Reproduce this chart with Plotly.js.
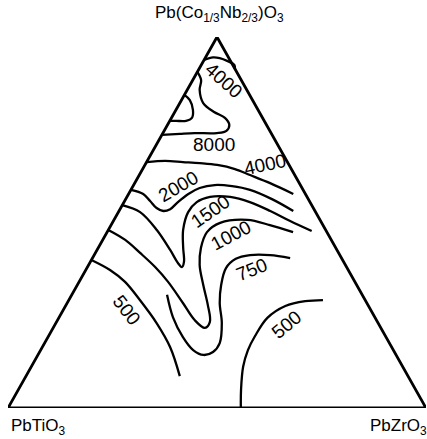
<!DOCTYPE html>
<html>
<head>
<meta charset="utf-8">
<script src="https://cdn.plot.ly/plotly-3.0.1.min.js"></script>
<style>
  html, body { margin: 0; padding: 0; background: #ffffff; }
  #chart { width: 427px; height: 439px; }
</style>
</head>
<body>
<div id="chart"></div>
<script>
// Ternary system: top, left and right corner compounds
const components = [
  'Pb(Co<sub>1/3</sub>Nb<sub>2/3</sub>)O<sub>3</sub>',
  'PbTiO<sub>3</sub>',
  'PbZrO<sub>3</sub>'
];

// Iso-permittivity lines, compositions in mol% Pb(Co1/3Nb2/3)O3 (pcn) and PbZrO3 (pz);
// PbTiO3 is the balance.
const pcn_4000a = [93.8, 94.5, 94.3, 93.5, 92.5, 91.4];
const pz_4000a  = [0.0, 1.8, 3.5, 5.8, 7.9, 8.6];

const pcn_8000 = [90.6, 88.4, 85.7, 82.2, 79.8, 78.2, 76.3, 74.7, 74.1, 74.1, 73.9, 73.6];
const pz_8000  = [0.0, 2.0, 3.0, 5.6, 9.4, 12.8, 14.8, 14.9, 12.9, 7.6, 4.2, 0.0];

const pcn_peak = [84.4, 83.0, 80.3, 78.2, 77.4, 77.4, 77.4];
const pz_peak  = [0.0, 2.0, 4.1, 4.9, 3.9, 1.5, 0.0];

const pcn_4000b = [66.3, 66.6, 66.3, 66.0, 65.5, 64.4, 62.8, 60.6, 57.7];
const pz_4000b  = [0.0, 4.3, 8.7, 12.9, 17.3, 22.1, 26.5, 32.4, 39.4];

const pcn_2000 = [58.8, 57.7, 55.8, 53.9, 53.1, 53.6, 55.5, 57.7, 59.3, 60.1, 59.8, 58.8, 56.3, 53.1];
const pz_2000  = [0.0, 3.5, 6.1, 8.6, 10.6, 12.0, 12.9, 14.3, 16.2, 19.4, 23.7, 28.5, 35.0, 41.7];

const pcn_1500 = [54.7, 52.8, 48.0, 42.6, 39.1, 38.0, 39.4, 43.4, 48.0, 52.8, 55.5, 56.9, 56.9, 55.5, 53.1, 50.4, 47.7];
const pz_1500  = [0.0, 5.2, 11.6, 17.5, 21.1, 22.6, 22.4, 20.2, 17.9, 16.7, 17.4, 19.9, 24.7, 30.1, 36.2, 42.3, 48.8];

const pcn_1000 = [48.0, 45.3, 41.8, 38.0, 34.0, 28.3, 23.7, 21.6, 23.2, 27.8, 33.2, 38.5, 43.1, 47.4, 49.9, 50.7, 49.3, 47.4];
const pz_1000  = [0.0, 5.4, 10.7, 16.2, 21.3, 27.7, 32.8, 36.3, 36.7, 33.9, 30.1, 26.6, 24.6, 23.9, 25.8, 31.9, 38.0, 44.5];

const pcn_750 = [30.5, 24.5, 19.1, 15.6, 14.3, 15.1, 17.5, 22.9, 28.3, 33.2, 37.7, 40.2, 41.2, 41.2, 40.4];
const pz_750  = [22.8, 27.2, 32.3, 36.5, 39.6, 41.5, 41.9, 39.7, 36.5, 34.4, 33.3, 34.4, 37.3, 42.1, 47.3];

const pcn_500a = [39.9, 37.2, 34.0, 29.1, 22.9, 16.4, 8.6];
const pz_500a  = [0.0, 5.8, 11.0, 17.0, 24.1, 30.6, 36.8];

const pcn_500b = [0.0, 4.9, 11.1, 15.6, 19.4, 24.3, 27.5, 28.8, 29.1];
const pz_500b  = [55.7, 53.3, 50.7, 49.6, 49.4, 49.9, 52.6, 56.7, 60.8];

// Contour lines and their permittivity levels (null: unlabelled maximum)
const contours = [
  { level: 4000, pcn: pcn_4000a, pz: pz_4000a },
  { level: 8000, pcn: pcn_8000,  pz: pz_8000 },
  { level: null, pcn: pcn_peak,  pz: pz_peak },
  { level: 4000, pcn: pcn_4000b, pz: pz_4000b },
  { level: 2000, pcn: pcn_2000,  pz: pz_2000 },
  { level: 1500, pcn: pcn_1500,  pz: pz_1500 },
  { level: 1000, pcn: pcn_1000,  pz: pz_1000 },
  { level: 750,  pcn: pcn_750,   pz: pz_750 },
  { level: 500,  pcn: pcn_500a,  pz: pz_500a },
  { level: 500,  pcn: pcn_500b,  pz: pz_500b }
];

// Ternary composition -> cartesian position inside the unit triangle
function toX(pcn, pz) { return (pz + pcn / 2) / 100; }
function toY(pcn) { return pcn / 100; }

const traces = [];

// Triangle outline through the three pure compounds
const cornerPcn = [100, 0, 0, 100];
const cornerPz  = [0, 0, 100, 0];
traces.push({
  type: 'scatter', mode: 'lines',
  x: cornerPcn.map((a, i) => toX(a, cornerPz[i])),
  y: cornerPcn.map(a => toY(a)),
  line: { color: '#000', width: 2.8 },
  cliponaxis: false, hoverinfo: 'skip', showlegend: false
});

contours.forEach(c => {
  traces.push({
    type: 'scatter', mode: 'lines',
    x: c.pcn.map((a, i) => toX(a, c.pz[i])),
    y: c.pcn.map(a => toY(a)),
    line: { color: '#000', width: 2.3, shape: 'spline', smoothing: 1 },
    cliponaxis: false, hoverinfo: 'skip', showlegend: false
  });
});

// Where each contour's value is written (contour index, composition, text angle)
const labelSpots = [
  { k: 0, pcn: 88.4, pz: 7.5,  angle: 42 },
  { k: 1, pcn: 70.9, pz: 13.9, angle: 0 },
  { k: 3, pcn: 65.5, pz: 28.8, angle: -12 },
  { k: 4, pcn: 59.8, pz: 10.8, angle: -30 },
  { k: 5, pcn: 53.1, pz: 21.8, angle: -35 },
  { k: 6, pcn: 46.4, pz: 30.1, angle: -28 },
  { k: 7, pcn: 37.2, pz: 39.8, angle: -22 },
  { k: 9, pcn: 22.4, pz: 55.5, angle: -40 },
  { k: 8, pcn: 26.4, pz: 15.3, angle: 52 }
];

const labelFont = { family: 'Liberation Sans, Arial, sans-serif', size: 19, color: '#000' };
const annotations = labelSpots.map(s => ({
  x: toX(s.pcn, s.pz), y: toY(s.pcn), xref: 'x', yref: 'y',
  text: String(contours[s.k].level),
  textangle: s.angle, showarrow: false, font: labelFont
}));

// Corner names sit outside the triangle, so they are placed on the paper
const cornerFont = { family: 'Liberation Sans, Arial, sans-serif', size: 17, color: '#000' };
annotations.push(
  { x: 0.507, y: 1.063, xref: 'paper', yref: 'paper', text: components[0], showarrow: false,
    xanchor: 'center', yanchor: 'middle', font: cornerFont },
  { x: 0.003, y: -0.05, xref: 'paper', yref: 'paper', text: components[1], showarrow: false,
    xanchor: 'left', yanchor: 'middle', font: cornerFont },
  { x: 0.862, y: -0.05, xref: 'paper', yref: 'paper', text: components[2], showarrow: false,
    xanchor: 'left', yanchor: 'middle', font: cornerFont }
);

const hidden = { range: [0, 1], visible: false, fixedrange: true, showgrid: false, zeroline: false };

const layout = {
  width: 427, height: 439,
  margin: { l: 8, r: 1, t: 37, b: 31 },
  paper_bgcolor: '#fff', plot_bgcolor: '#fff',
  xaxis: hidden, yaxis: hidden,
  showlegend: false,
  annotations: annotations
};

Plotly.newPlot('chart', traces, layout, { staticPlot: true, displayModeBar: false });
</script>
</body>
</html>
